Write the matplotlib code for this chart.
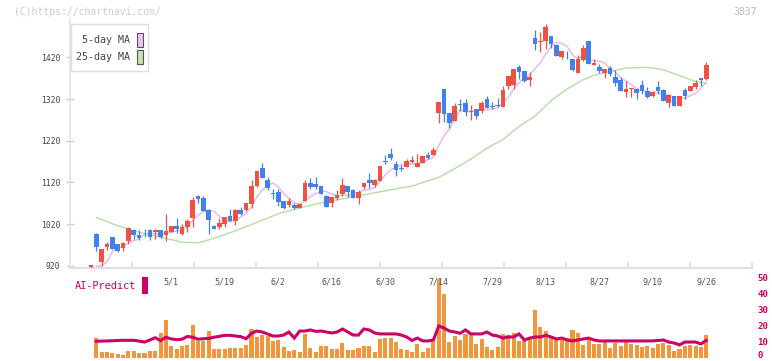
import numpy as np
import matplotlib
matplotlib.use("Agg")
import matplotlib.pyplot as plt
from matplotlib.patches import Rectangle

# ---------------- data ----------------
opens = [918, 996, 930, 964, 989, 972, 963, 980, 1006, 993,
         1007, 1006, 1001, 1006, 995, 1002, 1015, 997, 1012, 1035,
         1087, 1083, 1054, 1016, 1013, 1020, 1040, 1028, 1054, 1054,
         1069, 1111, 1154, 1126, 1095, 1097, 1075, 1067, 1065, 1059,
         1076, 1118, 1116, 1111, 1087, 1071, 1083, 1092, 1111, 1102,
         1083, 1109, 1126, 1114, 1124, 1172, 1188, 1164, 1154, 1157,
         1169, 1158, 1167, 1186, 1186, 1287, 1343, 1286, 1268, 1308,
         1310, 1288, 1296, 1292, 1320, 1304, 1306, 1301, 1351, 1353,
         1397, 1387, 1366, 1466, 1456, 1460, 1471, 1449, 1421, 1429,
         1415, 1383, 1413, 1459, 1402, 1397, 1383, 1394, 1373, 1366,
         1337, 1343, 1344, 1353, 1339, 1326, 1349, 1342, 1311, 1327,
         1304, 1342, 1339, 1349, 1370, 1368]
closes = [921, 966, 960, 972, 961, 956, 975, 1011, 995, 987,
          1005, 990, 1006, 988, 1003, 1015, 1008, 1012, 1028, 1078,
          1081, 1052, 1030, 1009, 1023, 1036, 1028, 1054, 1044, 1070,
          1111, 1147, 1131, 1107, 1093, 1074, 1059, 1075, 1059, 1068,
          1118, 1109, 1109, 1093, 1062, 1085, 1090, 1114, 1096, 1083,
          1097, 1118, 1118, 1126, 1159, 1170, 1179, 1150, 1152, 1171,
          1174, 1167, 1183, 1179, 1198, 1313, 1285, 1263, 1303, 1306,
          1289, 1290, 1280, 1310, 1299, 1302, 1304, 1341, 1375, 1392,
          1385, 1364, 1373, 1452, 1460, 1493, 1452, 1424, 1435, 1427,
          1389, 1415, 1442, 1405, 1407, 1387, 1391, 1380, 1359, 1340,
          1344, 1345, 1335, 1338, 1325, 1337, 1339, 1316, 1330, 1304,
          1327, 1326, 1351, 1358, 1366, 1401]
highs = [922, 998, 961, 977, 990, 973, 976, 1012, 1009, 1006,
         1009, 1009, 1009, 1007, 1044, 1016, 1034, 1020, 1032, 1084,
         1090, 1087, 1056, 1018, 1035, 1037, 1056, 1057, 1061, 1071,
         1126, 1148, 1166, 1132, 1105, 1104, 1076, 1083, 1070, 1069,
         1126, 1131, 1132, 1112, 1089, 1086, 1102, 1131, 1112, 1103,
         1102, 1119, 1143, 1127, 1160, 1186, 1202, 1171, 1162, 1176,
         1183, 1188, 1184, 1193, 1206, 1314, 1344, 1287, 1311, 1319,
         1319, 1306, 1297, 1315, 1327, 1313, 1322, 1351, 1376, 1393,
         1401, 1388, 1385, 1486, 1480, 1500, 1472, 1453, 1436, 1434,
         1416, 1425, 1449, 1460, 1415, 1404, 1392, 1399, 1390, 1373,
         1363, 1346, 1345, 1366, 1349, 1338, 1363, 1343, 1331, 1328,
         1328, 1346, 1352, 1366, 1371, 1409]
lows = [915, 956, 920, 958, 960, 953, 956, 973, 985, 982,
        990, 983, 985, 987, 980, 1000, 998, 994, 1002, 1014,
        1071, 1051, 996, 1008, 1009, 1014, 1027, 1018, 1043, 1052,
        1059, 1110, 1130, 1102, 1081, 1064, 1056, 1062, 1056, 1058,
        1075, 1104, 1104, 1092, 1061, 1062, 1078, 1087, 1086, 1082,
        1068, 1103, 1107, 1109, 1123, 1164, 1174, 1136, 1147, 1156,
        1166, 1157, 1166, 1177, 1185, 1263, 1265, 1251, 1267, 1292,
        1280, 1270, 1271, 1287, 1298, 1297, 1300, 1300, 1345, 1343,
        1369, 1360, 1350, 1437, 1433, 1441, 1442, 1423, 1415, 1415,
        1387, 1382, 1412, 1404, 1401, 1382, 1371, 1374, 1350, 1339,
        1325, 1325, 1321, 1332, 1323, 1325, 1332, 1315, 1302, 1303,
        1303, 1319, 1338, 1344, 1351, 1366]

ma5 = [np.nan, 919, 920, 930, 954, 963, 965, 975, 980, 985,
       995, 998, 997, 995, 998, 1000, 1004, 1005, 1013, 1028,
       1041, 1050, 1054, 1050, 1039, 1030, 1025, 1030, 1037, 1046,
       1061, 1085, 1101, 1113, 1118, 1110, 1093, 1082, 1072, 1067,
       1076, 1086, 1093, 1099, 1098, 1092, 1088, 1089, 1089, 1094,
       1096, 1102, 1102, 1108, 1124, 1138, 1150, 1157, 1162, 1164,
       1165, 1163, 1169, 1175, 1180, 1208, 1232, 1248, 1272, 1294,
       1289, 1290, 1294, 1295, 1294, 1296, 1299, 1311, 1324, 1343,
       1359, 1371, 1378, 1393, 1407, 1428, 1446, 1456, 1453, 1446,
       1425, 1418, 1422, 1416, 1412, 1411, 1406, 1394, 1385, 1371,
       1363, 1354, 1345, 1340, 1337, 1336, 1335, 1331, 1329, 1325,
       1323, 1321, 1328, 1333, 1346, 1360]

ma25_idx = [1, 5, 8, 13, 17, 20, 23, 27, 31, 35, 40, 45, 50, 55, 60, 63, 65,
            68, 71, 74, 77, 80, 83, 86, 89, 92, 94, 97, 100, 104, 107, 110, 113, 115]
ma25_val = [1036, 1016, 1004, 988, 977, 975, 986, 1004, 1024, 1045, 1062, 1076,
            1088, 1100, 1111, 1124, 1132, 1153, 1176, 1202, 1223, 1254, 1279,
            1316, 1344, 1366, 1377, 1386, 1394, 1396, 1390, 1376, 1362, 1358]

volume = [np.nan, 12.5, 3.8, 3.8, 2.9, 2.3, 1.9, 4.4, 4.4, 3.1,
          3.1, 4.4, 4.4, 15.7, 23.8, 7.5, 5.6, 7.5, 8.2, 20.7,
          10.7, 10.7, 16.9, 5.6, 5.6, 5.6, 6.3, 6.3, 6.5, 8.2,
          18.2, 13.2, 14.4, 13.8, 10.7, 11.3, 6.9, 4.6, 5.0, 3.8,
          15.1, 6.3, 3.8, 7.5, 7.5, 5.6, 5.6, 9.4, 5.0, 5.0,
          6.3, 7.5, 7.5, 3.8, 11.9, 12.5, 12.5, 10.0, 5.6, 5.0,
          3.8, 8.8, 3.8, 6.3, 10.7, 49.6, 40.2, 10.0, 13.8, 11.3,
          15.1, 14.4, 8.8, 11.9, 6.9, 5.0, 6.9, 15.1, 14.5, 15.7,
          10.7, 10.7, 11.9, 30.1, 19.4, 16.9, 13.2, 11.3, 11.3, 12.5,
          17.6, 15.7, 8.2, 11.9, 8.8, 8.8, 10.0, 6.3, 9.4, 7.5,
          10.0, 8.8, 8.2, 6.9, 7.5, 6.3, 8.8, 9.4, 8.2, 4.4,
          5.6, 7.5, 8.2, 7.5, 6.9, 14.4]

ai_predict = [np.nan, 10.5, 10.6, 10.7, 10.8, 11.0, 11.1, 11.1, 11.1, 10.6,
              10.0, 11.3, 12.7, 10.9, 13.0, 12.0, 11.5, 11.8, 13.5, 13.0,
              11.8, 12.1, 12.3, 13.0, 13.6, 14.2, 14.2, 13.8, 13.4, 12.1,
              15.5, 16.9, 16.3, 15.1, 13.8, 13.8, 14.4, 16.3, 12.5, 16.9,
              16.9, 17.6, 16.7, 16.9, 16.3, 15.7, 16.3, 18.2, 16.3, 14.4,
              14.4, 18.2, 17.6, 15.7, 15.1, 15.1, 15.1, 15.1, 14.4, 13.2,
              11.0, 12.5, 10.7, 10.7, 11.3, 20.1, 18.8, 16.9, 16.3, 15.5,
              17.6, 15.1, 15.1, 15.1, 16.3, 14.4, 13.8, 12.5, 13.2, 13.2,
              15.1, 11.3, 12.5, 13.2, 13.2, 14.2, 13.2, 11.9, 12.5, 11.3,
              10.7, 11.3, 11.9, 12.5, 11.3, 10.7, 10.7, 10.7, 10.7, 10.7,
              10.7, 10.7, 10.7, 10.7, 10.7, 10.7, 11.0, 11.3, 10.0, 9.4,
              8.2, 10.0, 10.0, 10.0, 8.8, 11.0]

date_labels = ["5/1", "5/19", "6/2", "6/16", "6/30", "7/14", "7/29",
               "8/13", "8/27", "9/10", "9/26"]
date_label_idx = [15, 25, 35, 45, 55, 65, 75, 85, 95, 105, 115]
price_ticks = [920, 1020, 1120, 1220, 1320, 1420]
volume_ticks = [0, 10, 20, 30, 40, 50]

# ---------------- figure ----------------
W, H = 772, 361
fig = plt.figure(figsize=(W / 100, H / 100), dpi=100)
fig.patch.set_facecolor("white")
MONO = "DejaVu Sans Mono"


def rect(x0, y0, x1, y1):
    return [x0 / W, 1 - y1 / H, (x1 - x0) / W, (y1 - y0) / H]


def fx(x):
    return x / W


def fy(y):
    return 1 - y / H


n = len(closes)
x = np.arange(n)
X0_PIX, STEP = 91.0, 5.35
L_PIX, R_PIX = 70, 752
xlim = ((L_PIX - X0_PIX) / STEP, (R_PIX - X0_PIX) / STEP)

# price axes
TOP_PIX, BOT_PIX = 18, 268
ax = fig.add_axes(rect(L_PIX, TOP_PIX, R_PIX, BOT_PIX))
ppx = 2.398  # price units per pixel
ax.set_ylim(1420 - (BOT_PIX - 57.3) * ppx, 1420 + (57.3 - TOP_PIX) * ppx)
ax.set_xlim(*xlim)

o = np.array(opens, float)
c = np.array(closes, float)
h = np.array(highs, float)
l = np.array(lows, float)
up = c >= o
RED, BLUE = "#f05242", "#4280f0"
cols = np.where(up, RED, BLUE)
ax.vlines(x, l, h, colors=cols, linewidth=0.9, zorder=3)
body = c - o
body = np.where(np.abs(body) < 2.2, np.where(up, 2.2, -2.2), body)
ax.bar(x, body, bottom=o, width=0.86, color=cols, linewidth=0, zorder=4)

ax.plot(x, ma5, color="#e8b4ee", linewidth=1.0, zorder=2)
ax.plot(ma25_idx, ma25_val, color="#b6dca6", linewidth=1.0, zorder=2)

for s in ["top", "right"]:
    ax.spines[s].set_visible(False)
ax.spines["left"].set_color("#e0e0e0")
ax.spines["left"].set_linewidth(1.1)
ax.spines["bottom"].set_color("#e0e0e0")
ax.spines["bottom"].set_linewidth(1.6)
ax.set_yticks(price_ticks)
ax.set_yticklabels([str(t) for t in price_ticks], fontfamily=MONO,
                   fontsize=5.8, color="#444444")
ax.tick_params(axis="y", direction="inout", length=6, width=0.9,
               color="#cccccc", pad=4)
tick_pos = [xlim[0] + k * (xlim[1] - xlim[0]) / 11 for k in range(1, 12)]
ax.set_xticks(tick_pos)
ax.set_xticklabels([])
ax.tick_params(axis="x", direction="in", length=4, width=1.2, color="#dddddd")
ax.patch.set_alpha(0)

# date labels
for lab, idx in zip(date_labels, date_label_idx):
    fig.text(fx(X0_PIX + STEP * idx), fy(282), lab, fontfamily=MONO,
             fontsize=6.0, color="#555555", ha="center", va="center")

# legend
fig.patches.append(Rectangle((fx(70.5), fy(71)), (148 - 70.5) / W, 47 / H,
                             transform=fig.transFigure, facecolor="white",
                             edgecolor="#dddddd", linewidth=1.0, zorder=10))
for ty, lab, fc in [(40, "5-day MA", "#f0c0f0"), (57, "25-day MA", "#c2e2b4")]:
    fig.text(fx(130), fy(ty), lab, fontfamily=MONO, fontsize=7.2,
             color="#444444", ha="right", va="center", zorder=11)
    fig.patches.append(Rectangle((fx(137), fy(ty + 7)), 5.5 / W, 14 / H,
                                 transform=fig.transFigure, facecolor=fc,
                                 edgecolor="#555555", linewidth=0.8, zorder=11))

# watermark / code
fig.text(fx(14), fy(12), "(C)https://chartnavi.com/", fontfamily=MONO,
         fontsize=7.0, color="#cccccc", ha="left", va="center")
fig.text(fx(757), fy(12), "3837", fontfamily=MONO, fontsize=7.0,
         color="#bbbbbb", ha="right", va="center")

# AI-Predict label
CRIM = "#cc0066"
fig.text(fx(75), fy(286), "AI-Predict", fontfamily=MONO, fontsize=7.4,
         color=CRIM, ha="left", va="center")
fig.patches.append(Rectangle((fx(142), fy(294)), 6 / W, 17 / H,
                             transform=fig.transFigure, facecolor=CRIM,
                             edgecolor="none"))

# volume axes
VB, VT = 358.0, 278.3
vpx = (VB - VT) / 50.0
vtop = 274
axv = fig.add_axes(rect(L_PIX, vtop, R_PIX, VB))
axv.set_xlim(*xlim)
axv.set_ylim(0, (VB - vtop) / vpx)
axv.bar(x, volume, width=0.76, color="#f0963c", linewidth=0, zorder=2)
axv.plot(x, ai_predict, color=CRIM, linewidth=2.2, zorder=3,
         solid_joinstyle="miter")
for s in axv.spines.values():
    s.set_visible(False)
axv.set_xticks([])
axv.set_yticks([])
axv.patch.set_alpha(0)

# right-hand volume scale labels (kept inside the picture)
for v in volume_ticks:
    ypix = min(VB - v * vpx, 355.5)
    fig.text(fx(757), fy(ypix), str(v), fontfamily=MONO, fontsize=6.6,
             color=CRIM, fontweight="bold", ha="left", va="center")

fig.savefig("out.png", dpi=100, facecolor="white")
